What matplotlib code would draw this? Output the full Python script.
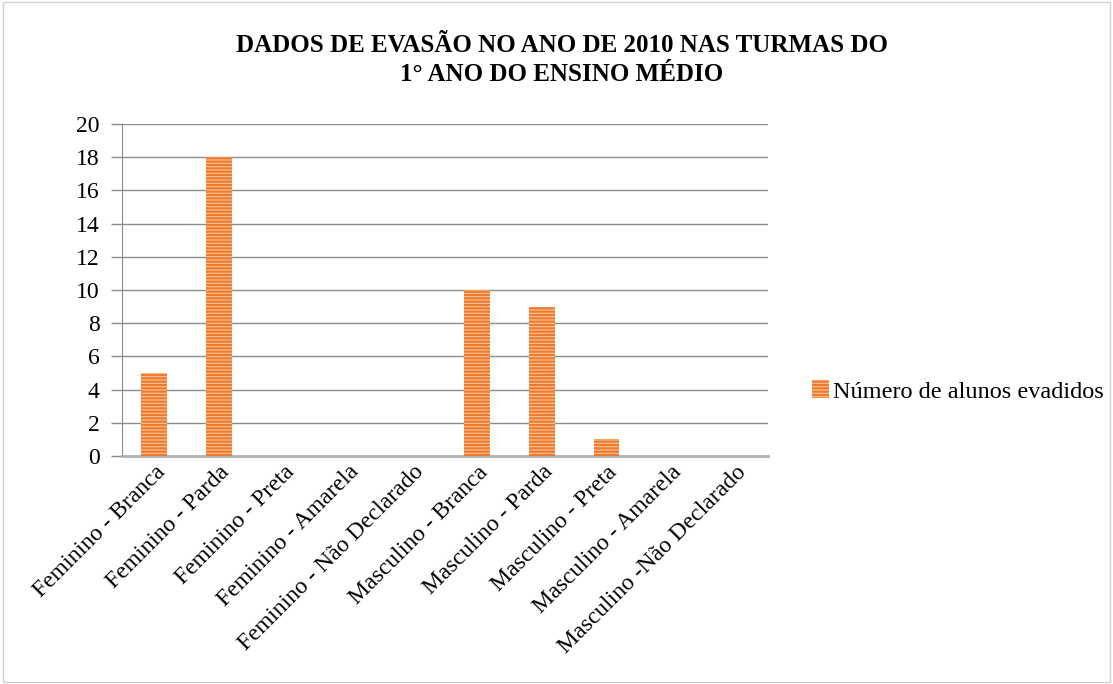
import matplotlib
matplotlib.use('Agg')
import matplotlib.pyplot as plt
import matplotlib.patches as mpatches
import matplotlib.transforms as mtransforms
import numpy as np

plt.rcParams['font.family'] = ['Liberation Serif', 'DejaVu Serif']
plt.rcParams['hatch.linewidth'] = 1.6

categorias = ['Feminino - Branca', 'Feminino - Parda', 'Feminino - Preta',
              'Feminino - Amarela', 'Feminino - Não Declarado',
              'Masculino - Branca', 'Masculino - Parda', 'Masculino - Preta',
              'Masculino - Amarela', 'Masculino -Não Declarado']
evadidos = [5, 18, 0, 0, 0, 10, 9, 1, 0, 0]
serie = 'Número de alunos evadidos'

fig = plt.figure(figsize=(11.13, 6.84), dpi=100)
ax = fig.add_axes([0.1096, 0.3333, 0.5804, 0.4854])

x = np.arange(len(categorias))
ax.bar(x, evadidos, width=0.4, color='#f8c4a0', edgecolor='#ee7a2a',
       hatch='-----', linewidth=0, zorder=3)

ax.set_xlim(-0.5, len(categorias) - 0.5)
ax.set_ylim(0, 20)
ax.set_yticks(range(0, 21, 2))
ax.yaxis.grid(True, color='#8c8c8c', linewidth=1)
ax.set_axisbelow(True)
ax.set_xticks(x)
ax.set_xticklabels(categorias, rotation=45, ha='right', rotation_mode='anchor',
                   fontsize=17)
# deslocar os rótulos um pouco para a direita
desloc = mtransforms.ScaledTranslation(0.09, -0.02, fig.dpi_scale_trans)
for lab in ax.get_xticklabels():
    lab.set_transform(lab.get_transform() + desloc)
ax.tick_params(axis='y', labelsize=17, length=8, color='#8c8c8c', width=1, pad=8)
ax.tick_params(axis='x', length=0, pad=4)
for s in ['top', 'right']:
    ax.spines[s].set_visible(False)
ax.spines['left'].set_color('#8c8c8c')
ax.spines['bottom'].set_color('#b0b0b0')
ax.spines['bottom'].set_linewidth(2)

fig.text(0.505, 0.912, 'DADOS DE EVASÃO NO ANO DE 2010 NAS TURMAS DO\n1° ANO DO ENSINO MÉDIO',
         ha='center', va='center', fontsize=18, fontweight='bold',
         linespacing=1.3)

handle = mpatches.Patch(facecolor='#f8c4a0', edgecolor='#ee7a2a', hatch='-----',
                        linewidth=0, label=serie)
fig.legend(handles=[handle], loc='center left', bbox_to_anchor=(0.71, 0.428),
           frameon=False, fontsize=17.5, handlelength=0.7, handleheight=0.8,
           handletextpad=0.15)

fig.patches.append(mpatches.Rectangle((0.003, 0.003), 0.994, 0.994,
                                      transform=fig.transFigure, fill=False,
                                      edgecolor='#d0d0d0', linewidth=1))

fig.savefig('out.png', dpi=100)
